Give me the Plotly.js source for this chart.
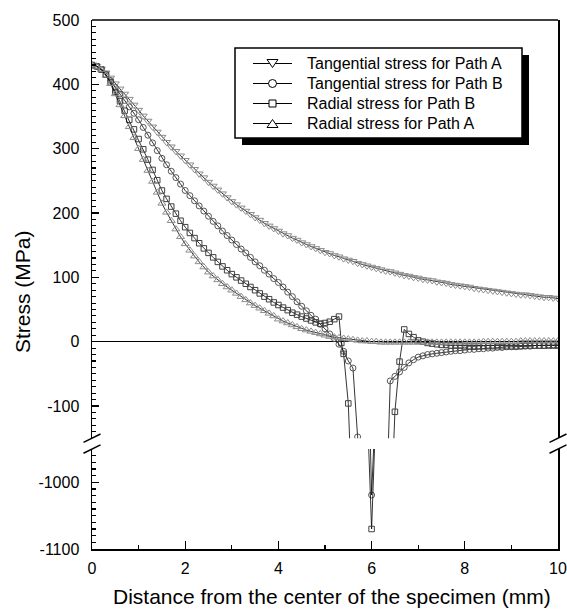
<!DOCTYPE html>
<html>
<head>
<meta charset="utf-8">
<script src="https://cdn.plot.ly/plotly-3.0.1.min.js"></script>
<style>html,body{margin:0;padding:0;background:#fff;}#chart{width:567px;height:610px;}</style>
</head>
<body>
<div id="chart"></div>
<script>
// ---- data ----
const xPathA = [0,0.1,0.2,0.3,0.4,0.5,0.6,0.7,0.8,0.9,
  1,1.1,1.2,1.3,1.4,1.5,1.6,1.7,1.8,1.9,
  2,2.1,2.2,2.3,2.4,2.5,2.6,2.7,2.8,2.9,
  3,3.1,3.2,3.3,3.4,3.5,3.6,3.7,3.8,3.9,
  4,4.1,4.2,4.3,4.4,4.5,4.6,4.7,4.8,4.9,
  5,5.1,5.2,5.3,5.4,5.5,5.6,5.7,5.8,5.9,
  6,6.1,6.2,6.3,6.4,6.5,6.6,6.7,6.8,6.9,
  7,7.1,7.2,7.3,7.4,7.5,7.6,7.7,7.8,7.9,
  8,8.1,8.2,8.3,8.4,8.5,8.6,8.7,8.8,8.9,
  9,9.1,9.2,9.3,9.4,9.5,9.6,9.7,9.8,9.9,
  10];
const tangentialA = [430,428,424,418,410,401,393,385,377,368,
  360,351,343,334,326,318,310,303,296,289,
  282,275,268,261,255,248,242,236,230,224,
  218,213,208,203,198,193,189,184,180,176,
  172,168,165,161,158,154,151,148,145,142,
  139,137,134,132,129,127,125,122,120,118,
  116,114,112,110,109,107,105,103,102,100,
  99,97,96,95,93,92,91,89,88,87,
  86,85,83,82,81,80,79,78,77,76,
  75,74,73,73,72,71,70,69,69,68,
  67];
const radialA = [430,428,423,414,401,385,368,351,334,317,
  300,283,266,249,232,215,201,188,175,163,
  152,142,133,124,116,108,102,96,90,85,
  80,75,70,65,60,56,52,48,44,40,
  35,32,29,26,23,20,18,16,14,12,
  10,8,7,6,5,4,3,2,1,1,
  0,0,-1,-1,-1,-1,-1,-1,-1,-1,
  -1,-1,-1,-1,-1,-1,-1,-1,-1,-1,
  -1,-1,-1,-1,0,0,0,0,0,0,
  0,0,1,1,1,1,1,1,1,1,
  1];
const xTangB = [0,0.1,0.2,0.3,0.4,0.5,0.6,0.7,0.8,0.9,
  1,1.1,1.2,1.3,1.4,1.5,1.6,1.7,1.8,1.9,
  2,2.1,2.2,2.3,2.4,2.5,2.6,2.7,2.8,2.9,
  3,3.1,3.2,3.3,3.4,3.5,3.6,3.7,3.8,3.9,
  4,4.1,4.2,4.3,4.4,4.5,4.6,4.7,4.8,4.9,
  5,5.1,5.2,5.3,5.4,5.5,5.6,5.7,
  6,
  6.4,6.5,6.6,6.7,6.8,6.9,
  7,7.1,7.2,7.3,7.4,7.5,7.6,7.7,7.8,7.9,
  8,8.1,8.2,8.3,8.4,8.5,8.6,8.7,8.8,8.9,
  9,9.1,9.2,9.3,9.4,9.5,9.6,9.7,9.8,9.9,
  10];
const tangentialB = [430,428,423,415,406,395,385,375,365,355,
  345,333,321,309,297,285,275,265,255,245,
  235,227,219,211,203,195,187,180,172,165,
  158,151,144,138,131,124,118,111,105,98,
  92,85,77,70,62,55,48,41,35,27,
  20,12,5,-4,-15,-30,-41,-148,
  -1019,
  -61,-54,-47,-40,-33,-28,
  -24,-22,-20,-19,-18,-17,-16,-15,-14,-14,
  -13,-12,-12,-11,-11,-10,-10,-9,-9,-8,
  -8,-8,-7,-7,-7,-6,-6,-6,-5,-5,
  -5];
const xRadB = [0,0.1,0.2,0.3,0.4,0.5,0.6,0.7,0.8,0.9,
  1,1.1,1.2,1.3,1.4,1.5,1.6,1.7,1.8,1.9,
  2,2.1,2.2,2.3,2.4,2.5,2.6,2.7,2.8,2.9,
  3,3.1,3.2,3.3,3.4,3.5,3.6,3.7,3.8,3.9,
  4,4.1,4.2,4.3,4.4,4.5,4.6,4.7,4.8,4.9,
  5,5.1,5.2,5.3,5.35,5.4,5.5,
  6,
  6.5,6.6,6.7,6.8,6.9,
  7,7.1,7.2,7.3,7.4,7.5,7.6,7.7,7.8,7.9,
  8,8.1,8.2,8.3,8.4,8.5,8.6,8.7,8.8,8.9,
  9,9.1,9.2,9.3,9.4,9.5,9.6,9.7,9.8,9.9,
  10];
const radialB = [430,428,423,415,403,388,374,359,345,330,
  315,299,283,267,251,235,222,210,199,188,
  178,169,161,153,145,138,131,124,117,111,
  105,100,95,90,85,80,75,70,66,61,
  57,53,49,45,42,39,36,33,30,28,
  29,31,35,39,-2,-19,-96,
  -1070,
  -109,-31,19,12,7,
  2,0,-2,-3,-4,-5,-5,-6,-6,-6,
  -7,-7,-7,-7,-7,-7,-7,-7,-7,-7,
  -7,-7,-7,-6,-6,-6,-6,-6,-6,-6,
  -6];

const seriesNames = ['Tangential stress for Path A','Tangential stress for Path B','Radial stress for Path B','Radial stress for Path A'];
const xTickVals = [0,2,4,6,8,10];
const xTickText = ['0','2','4','6','8','10'];
const yUpperTickVals = [-100,0,100,200,300,400,500];
const yUpperTickText = ['-100','0','100','200','300','400','500'];
const yLowerTickVals = [-1100,-1000];
const yLowerTickText = ['-1100','-1000'];
const xTitle = 'Distance from the center of the specimen (mm)';
const yTitle = 'Stress (MPa)';

// ---- styles ----
const styles = [
  {symbol:'triangle-down-open', color:'#8c8c8c', size:7, glyph:'tdown'},
  {symbol:'circle-open', color:'#555555', size:6, glyph:'circle'},
  {symbol:'square-open', color:'#404040', size:5.5, glyph:'square'},
  {symbol:'triangle-up-open', color:'#8c8c8c', size:7, glyph:'tup'}
];
const xs = [xPathA, xTangB, xRadB, xPathA];
const ys = [tangentialA, tangentialB, radialB, radialA];

const traces = [];
['y','y2'].forEach(function(ax){
  for (let i=0;i<4;i++){
    traces.push({
      type:'scatter', mode:'lines+markers',
      x: xs[i], y: ys[i], yaxis: ax, xaxis:'x',
      name: seriesNames[i], showlegend:false,
      line:{color:'#000', width:0.8},
      marker:{symbol:styles[i].symbol, size:styles[i].size, color:styles[i].color, line:{width:1}}
    });
  }
});

const W = 466, H = 529, L = 92, T = 20; // plot area in px
function pxX(p){ return (p - L)/W; }          // page px -> paper x
function pxY(p){ return (T + H - p)/H; }      // page px -> paper y
function dX(d){ return d/W; }
function dY(d){ return d/H; }

const lineBlack = {color:'black', width:1.5};
const shapes = [
  {type:'line', xref:'paper', yref:'paper', x0:0, x1:1, y0:1, y1:1, line:lineBlack},
  {type:'line', xref:'paper', yref:'paper', x0:-dX(8.5), x1:dX(8.5), y0:0.2095-dY(4.2), y1:0.2095+dY(4.2), line:lineBlack},
  {type:'line', xref:'paper', yref:'paper', x0:-dX(8.5), x1:dX(8.5), y0:0.189-dY(4.2), y1:0.189+dY(4.2), line:lineBlack},
  {type:'line', xref:'paper', yref:'paper', x0:1-dX(8.5), x1:1+dX(8.5), y0:0.2095-dY(4.2), y1:0.2095+dY(4.2), line:lineBlack},
  {type:'line', xref:'paper', yref:'paper', x0:1-dX(8.5), x1:1+dX(8.5), y0:0.189-dY(4.2), y1:0.189+dY(4.2), line:lineBlack},
  // legend shadow and box
  {type:'rect', xref:'paper', yref:'paper', layer:'above', x0:pxX(242), x1:pxX(529), y0:pxY(145), y1:pxY(55), fillcolor:'black', line:{width:0}},
  {type:'rect', xref:'paper', yref:'paper', layer:'above', x0:pxX(235), x1:pxX(522), y0:pxY(138), y1:pxY(48), fillcolor:'white', line:{color:'black', width:1.5}}
];

const annotations = [
  {text:xTitle, xref:'paper', yref:'paper', x:pxX(332), y:pxY(596), xanchor:'center', yanchor:'middle', showarrow:false, font:{size:21, color:'black'}},
  {text:yTitle, xref:'paper', yref:'paper', x:pxX(22), y:pxY(292), xanchor:'center', yanchor:'middle', textangle:-90, showarrow:false, font:{size:21, color:'black'}}
];

// legend entries (sample line + glyph + label)
const legendGlyph = {color:'black', width:1};
for (let i=0;i<4;i++){
  const cy = 63.5 + 20*i, cx = 272.5;
  shapes.push({type:'line', xref:'paper', yref:'paper', layer:'above', x0:pxX(253), x1:pxX(292), y0:pxY(cy), y1:pxY(cy), line:{color:'black', width:1}});
  const g = styles[i].glyph;
  if (g==='circle'){
    shapes.push({type:'circle', xref:'paper', yref:'paper', layer:'above', x0:pxX(cx-4), x1:pxX(cx+4), y0:pxY(cy+4), y1:pxY(cy-4), fillcolor:'white', line:legendGlyph});
  } else if (g==='square'){
    shapes.push({type:'rect', xref:'paper', yref:'paper', layer:'above', x0:pxX(cx-3.5), x1:pxX(cx+3.5), y0:pxY(cy+3.5), y1:pxY(cy-3.5), fillcolor:'white', line:legendGlyph});
  } else {
    const s = (g==='tdown') ? 1 : -1;
    const yb = cy - s*4, yt = cy + s*4;
    const path = 'M'+pxX(cx-5.5)+','+pxY(yb)+' L'+pxX(cx+5.5)+','+pxY(yb)+' L'+pxX(cx)+','+pxY(yt)+' Z';
    shapes.push({type:'path', xref:'paper', yref:'paper', layer:'above', path:path, fillcolor:'white', line:legendGlyph});
  }
  annotations.push({text:seriesNames[i], xref:'paper', yref:'paper', x:pxX(305), y:pxY(cy), xanchor:'left', yanchor:'middle', showarrow:false, font:{size:16, color:'black'}});
}

const axisCommon = {
  ticks:'inside', tickcolor:'black', tickwidth:1.3, showline:true, linecolor:'black', linewidth:1.5,
  showgrid:false, tickfont:{size:16, color:'black'}
};

const layout = {
  width:567, height:610,
  margin:{l:L, r:9, t:T, b:61, pad:0},
  paper_bgcolor:'white', plot_bgcolor:'white',
  font:{family:'Arial, "Liberation Sans", sans-serif', size:16, color:'black'},
  showlegend:false,
  xaxis:Object.assign({}, axisCommon, {
    domain:[0,1], anchor:'y2', range:[0,10], tickmode:'array', tickvals:xTickVals, ticktext:xTickText,
    ticklen:8, zeroline:false, ticklabelstandoff:4,
    minor:{tick0:0, dtick:1, ticks:'inside', ticklen:4, tickwidth:1.3, tickcolor:'black', showgrid:false}
  }),
  yaxis:Object.assign({}, axisCommon, {
    domain:[0.2095,1], anchor:'x', range:[-150,500], tickmode:'array', tickvals:yUpperTickVals, ticktext:yUpperTickText,
    ticklen:7, mirror:true, zeroline:true, zerolinecolor:'black', zerolinewidth:1.3, ticklabelstandoff:8,
    minor:{tick0:0, dtick:10, ticks:'inside', ticklen:4, tickwidth:1.1, tickcolor:'black', showgrid:false}
  }),
  yaxis2:Object.assign({}, axisCommon, {
    domain:[0,0.189], anchor:'x', range:[-1100,-950], tickmode:'array', tickvals:yLowerTickVals, ticktext:yLowerTickText,
    ticklen:7, mirror:true, zeroline:false, ticklabelstandoff:8,
    minor:{tick0:0, dtick:10, ticks:'inside', ticklen:4, tickwidth:1.1, tickcolor:'black', showgrid:false}
  }),
  shapes:shapes,
  annotations:annotations
};

Plotly.newPlot('chart', traces, layout, {displayModeBar:false, staticPlot:true});
</script>
</body>
</html>
